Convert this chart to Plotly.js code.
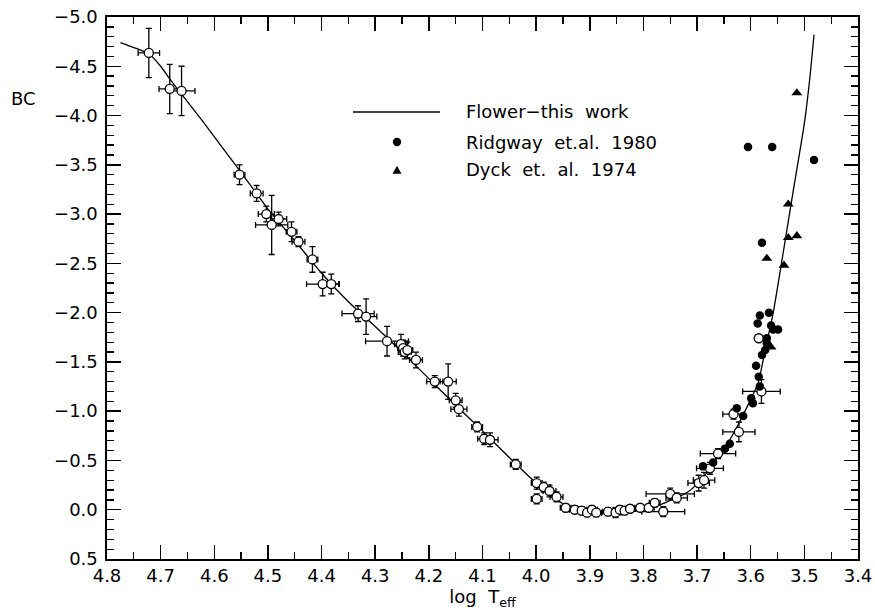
<!DOCTYPE html>
<html>
<head>
<meta charset="utf-8">
<script src="https://cdn.plot.ly/plotly-3.0.1.min.js"></script>
<style>html,body{margin:0;padding:0;background:#fff;}#chart{width:875px;height:613px;}</style>
</head>
<body>
<div id="chart"></div>
<script>
// Flower (this work) fitted relation
const curveT  = [4.775, 4.75, 4.72, 4.70, 4.68, 4.66, 4.62, 4.58, 4.55, 4.52, 4.50, 4.45, 4.40, 4.35, 4.30, 4.25, 4.20, 4.15, 4.10, 4.05, 4.00, 3.97, 3.95, 3.92, 3.90, 3.87, 3.85, 3.82, 3.80, 3.78, 3.76, 3.74, 3.72, 3.70, 3.68, 3.66, 3.64, 3.62, 3.60, 3.586, 3.573, 3.558, 3.54, 3.52, 3.50, 3.49, 3.482];
const curveBC = [-4.74, -4.69, -4.62, -4.50, -4.35, -4.21, -3.93, -3.64, -3.42, -3.20, -3.05, -2.73, -2.40, -2.11, -1.86, -1.60, -1.33, -1.06, -0.80, -0.53, -0.27, -0.14, -0.06, 0.00, 0.02, 0.03, 0.03, 0.02, 0.00, -0.03, -0.07, -0.12, -0.17, -0.26, -0.39, -0.55, -0.70, -0.90, -1.12, -1.29, -1.62, -2.00, -2.59, -3.26, -3.92, -4.37, -4.82];

// Flower calibration stars (open circles with error bars)
const flowerT = [4.722, 4.683, 4.661, 4.553, 4.521, 4.503, 4.493, 4.480, 4.456, 4.443, 4.417, 4.398, 4.382, 4.332, 4.317, 4.278, 4.252, 4.248, 4.245, 4.240, 4.224, 4.189, 4.164, 4.150, 4.144, 4.110, 4.097, 4.086, 4.038, 3.999, 3.999, 3.986, 3.975, 3.962, 3.945, 3.928, 3.915, 3.905, 3.896, 3.888, 3.866, 3.852, 3.844, 3.835, 3.825, 3.806, 3.790, 3.779, 3.763, 3.750, 3.738, 3.697, 3.687, 3.676, 3.661, 3.622, 3.632, 3.580, 3.585];
const flowerBC = [-4.635, -4.27, -4.25, -3.40, -3.21, -3.00, -2.89, -2.95, -2.82, -2.72, -2.54, -2.29, -2.29, -1.99, -1.96, -1.71, -1.68, -1.64, -1.60, -1.62, -1.52, -1.30, -1.30, -1.11, -1.02, -0.84, -0.72, -0.71, -0.46, -0.27, -0.11, -0.23, -0.19, -0.13, -0.02, 0.00, 0.01, 0.03, 0.00, 0.03, 0.02, 0.03, 0.00, 0.01, -0.01, -0.02, -0.02, -0.07, 0.02, -0.16, -0.12, -0.27, -0.30, -0.42, -0.57, -0.79, -0.97, -1.20, -1.74];
const flowerTerr = [0.02, 0.02, 0.025, 0.01, 0.012, 0.015, 0.03, 0.015, 0.01, 0.012, 0.01, 0.03, 0.015, 0.03, 0.02, 0.04, 0.012, 0.01, 0.012, 0.01, 0.012, 0.015, 0.015, 0.012, 0.015, 0.01, 0.012, 0.015, 0.01, 0.01, 0.01, 0.012, 0.012, 0.012, 0.01, 0.01, 0.01, 0.012, 0.01, 0.01, 0.01, 0.01, 0.012, 0.012, 0.01, 0.01, 0.01, 0.01, 0.04, 0.045, 0.02, 0.02, 0.02, 0.025, 0.033, 0.03, 0.02, 0.035, 0.0];
const flowerBCerr = [0.25, 0.25, 0.25, 0.10, 0.08, 0.08, 0.30, 0.07, 0.10, 0.05, 0.13, 0.12, 0.10, 0.08, 0.18, 0.15, 0.10, 0.08, 0.07, 0.08, 0.08, 0.06, 0.18, 0.07, 0.07, 0.05, 0.06, 0.07, 0.05, 0.06, 0.05, 0.05, 0.06, 0.05, 0.04, 0.04, 0.04, 0.04, 0.04, 0.04, 0.04, 0.05, 0.04, 0.04, 0.04, 0.03, 0.03, 0.04, 0.05, 0.06, 0.05, 0.08, 0.08, 0.06, 0.05, 0.10, 0.05, 0.12, 0.0];

// Ridgway et al. 1980 (filled circles)
const ridgwayT  = [3.605, 3.560, 3.482, 3.579, 3.583, 3.566, 3.587, 3.562, 3.558, 3.549, 3.570, 3.570, 3.573, 3.579, 3.590, 3.585, 3.583, 3.599, 3.596, 3.626, 3.614, 3.689, 3.670, 3.648, 3.639];
const ridgwayBC = [-3.68, -3.68, -3.55, -2.71, -1.97, -2.00, -1.89, -1.87, -1.83, -1.83, -1.74, -1.69, -1.62, -1.57, -1.46, -1.35, -1.25, -1.13, -1.08, -1.03, -0.95, -0.44, -0.48, -0.62, -0.67];

// Dyck et al. 1974 (filled triangles)
const dyckT  = [3.514, 3.530, 3.530, 3.514, 3.570, 3.538, 3.562];
const dyckBC = [-4.23, -3.10, -2.76, -2.78, -2.55, -2.48, -1.65];

// Tick labels
const xTicks = [4.8, 4.7, 4.6, 4.5, 4.4, 4.3, 4.2, 4.1, 4.0, 3.9, 3.8, 3.7, 3.6, 3.5, 3.4];
const yTicks = [0.5, 0.0, -0.5, -1.0, -1.5, -2.0, -2.5, -3.0, -3.5, -4.0, -4.5, -5.0];

const FONT = 'DejaVu Sans, Liberation Sans, Arial, sans-serif';

const traces = [
  {x: curveT, y: curveBC, type: 'scatter', mode: 'lines', line: {color: '#000', width: 1.3, shape: 'spline', smoothing: 0.6}, hoverinfo: 'skip'},
  {x: flowerT, y: flowerBC, type: 'scatter', mode: 'markers',
   marker: {symbol: 'circle', size: 9, color: '#fff', line: {color: '#000', width: 1.3}},
   error_x: {type: 'data', array: flowerTerr, visible: true, color: '#000', thickness: 1.3, width: 3},
   error_y: {type: 'data', array: flowerBCerr, visible: true, color: '#000', thickness: 1.3, width: 3}},
  {x: ridgwayT, y: ridgwayBC, type: 'scatter', mode: 'markers',
   marker: {symbol: 'circle', size: 8.5, color: '#000'}},
  {x: dyckT, y: dyckBC, type: 'scatter', mode: 'markers',
   marker: {symbol: 'triangle-up', size: 9.5, color: '#000'}}
];

const px = v => (v - 107) / 751;
const py = v => (559 - v) / 542;

const axisCommon = {
  showgrid: false, zeroline: false, showline: true, linecolor: '#000', linewidth: 1.6,
  ticks: 'inside', ticklen: 14, tickwidth: 1.5, tickcolor: '#000', mirror: 'allticks',
  tickfont: {family: FONT, size: 18, color: '#000'}, tickformat: '.1f', tickmode: 'array'
};

const layout = {
  width: 875, height: 613,
  margin: {l: 107, r: 17, t: 17, b: 54},
  paper_bgcolor: '#fff', plot_bgcolor: '#fff',
  showlegend: false,
  xaxis: Object.assign({}, axisCommon, {
    range: [4.8, 3.4], autorange: false, tickvals: xTicks,
    minor: {dtick: 0.05, ticks: 'inside', ticklen: 7, tickwidth: 1.3, tickcolor: '#000'},
    title: {text: 'log  T<sub>eff</sub>', font: {family: FONT, size: 18, color: '#000'}, standoff: 4}
  }),
  yaxis: Object.assign({}, axisCommon, {
    range: [0.5, -5.0], autorange: false, tickvals: yTicks, ticklabelstandoff: 4,
    minor: {dtick: 0.1, ticks: 'inside', ticklen: 7, tickwidth: 1.3, tickcolor: '#000'}
  }),
  annotations: [
    {xref: 'paper', yref: 'paper', x: px(23), y: py(99), text: 'BC', showarrow: false, xanchor: 'center', yanchor: 'middle', font: {family: FONT, size: 18, color: '#000'}},
    {xref: 'paper', yref: 'paper', x: px(464), y: py(112), text: 'Flower\u2212this&nbsp;&nbsp;work', showarrow: false, xanchor: 'left', yanchor: 'middle', font: {family: FONT, size: 18, color: '#000'}},
    {xref: 'paper', yref: 'paper', x: px(464), y: py(142), text: 'Ridgway&nbsp;&nbsp;et.al.&nbsp;&nbsp;1980', showarrow: false, xanchor: 'left', yanchor: 'middle', font: {family: FONT, size: 18, color: '#000'}},
    {xref: 'paper', yref: 'paper', x: px(464), y: py(170), text: 'Dyck&nbsp;&nbsp;et.&nbsp;&nbsp;al.&nbsp;&nbsp;1974', showarrow: false, xanchor: 'left', yanchor: 'middle', font: {family: FONT, size: 18, color: '#000'}}
  ],
  shapes: [
    {type: 'line', xref: 'paper', yref: 'paper', x0: px(353), x1: px(440), y0: py(112), y1: py(112), line: {color: '#000', width: 1.3}},
    {type: 'circle', xref: 'paper', yref: 'paper', xsizemode: 'pixel', ysizemode: 'pixel', xanchor: px(397), yanchor: py(142), x0: -4.2, x1: 4.2, y0: -4.2, y1: 4.2, fillcolor: '#000', line: {color: '#000', width: 0}},
    {type: 'path', xref: 'paper', yref: 'paper', xsizemode: 'pixel', ysizemode: 'pixel', xanchor: px(397), yanchor: py(170), path: 'M -4.5 -3.8 L 4.5 -3.8 L 0 4.2 Z', fillcolor: '#000', line: {color: '#000', width: 0}}
  ]
};

Plotly.newPlot('chart', traces, layout, {displayModeBar: false, staticPlot: true});
</script>
</body>
</html>
